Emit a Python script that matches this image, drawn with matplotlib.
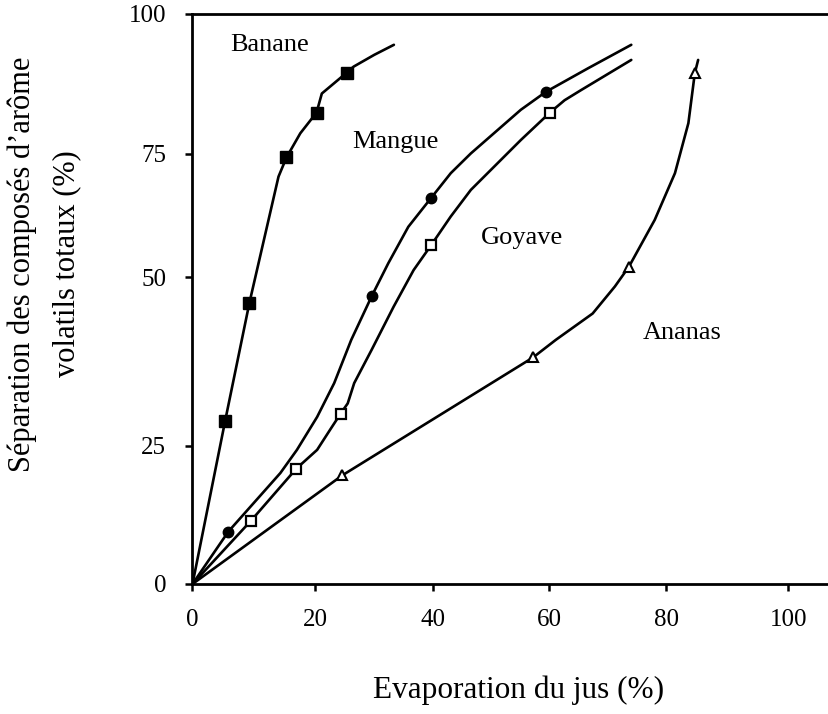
import numpy as np
import matplotlib
matplotlib.use("Agg")
from matplotlib import pyplot as plt

plt.rcParams["font.family"] = ["Liberation Serif", "DejaVu Serif"]

# tick positions of the (hand drawn, uneven) scan axes
x_ticks = [0, 20, 40, 60, 80, 100]
x_tick_pos = [0, 122.5, 239.8, 355.8, 472.5, 594.2]
y_ticks = [0, 25, 50, 75, 100]
y_tick_pos = [0, 138, 307, 430, 570]

# traced curves
banane_cx = [0, 5.31, 9.27, 14.0, 15.3, 17.55, 20.2, 21.1, 25.3, 26.5, 30.0, 33.35]
banane_cy = [0, 28.7, 46.2, 70.4, 74.3, 78.7, 82.4, 85.8, 89.5, 90.6, 92.7, 94.5]
mangue_cx = [0, 5.84, 14.3, 17.0, 20.3, 23.2, 26.1, 29.6, 32.4, 35.8, 39.7, 43.05, 46.5,
             55.1, 59.4, 66.6, 74.0]
mangue_cy = [0, 9.5, 20.1, 24.3, 29.3, 34.3, 40.7, 47.2, 52.8, 60.2, 66.1, 71.1, 75.1,
             82.9, 86.1, 90.3, 94.5]
goyave_cx = [0, 9.55, 16.9, 20.3, 22.5, 24.3, 25.5, 26.6, 29.55, 33.3, 36.7, 39.7, 43.05,
             46.5, 55.1, 60.1, 62.6, 65.4, 74.0]
goyave_cy = [0, 11.5, 20.9, 24.3, 27.4, 29.8, 31.3, 34.3, 39.2, 45.6, 51.4, 56.5, 62.3,
             67.7, 77.5, 82.4, 84.6, 86.4, 91.8]
ananas_cx = [0, 24.6, 57.2, 61.1, 67.4, 71.2, 73.6, 78.0, 81.4, 83.6, 84.65, 85.2]
ananas_cy = [0, 19.7, 38.1, 40.7, 44.6, 48.6, 52.1, 61.6, 71.1, 80.5, 89.4, 91.8]

# measured points
banane_x = [5.31, 9.27, 15.3, 20.2, 25.3]
banane_y = [28.7, 46.2, 74.3, 82.4, 89.5]
mangue_x = [5.84, 29.6, 39.7, 59.4]
mangue_y = [9.5, 47.2, 66.1, 86.1]
goyave_x = [9.55, 16.9, 24.3, 39.7, 60.1]
goyave_y = [11.5, 20.9, 29.8, 56.5, 82.4]
ananas_x = [24.6, 57.2, 73.6, 84.65]
ananas_y = [19.7, 38.1, 52.1, 89.4]

labels = ["Banane", "Mangue", "Goyave", "Ananas"]
label_x = [6.1, 26.3, 48.2, 76.0]
label_y = [94.5, 77.2, 57.9, 41.7]


def piecewise(vals, pos):
    vals = np.asarray(vals, float)
    pos = np.asarray(pos, float)
    lo_s = (pos[1] - pos[0]) / (vals[1] - vals[0])
    hi_s = (pos[-1] - pos[-2]) / (vals[-1] - vals[-2])
    v = np.concatenate([[vals[0] - 1e4], vals, [vals[-1] + 1e4]])
    p = np.concatenate([[pos[0] - 1e4 * lo_s], pos, [pos[-1] + 1e4 * hi_s]])
    return (lambda a: np.interp(a, v, p)), (lambda a: np.interp(a, p, v))


W, H = 829, 714
fig = plt.figure(figsize=(W / 100, H / 100), dpi=100)
ax = fig.add_axes([192.5 / W, 1 - 584 / H, (W - 192.5) / W + 0.01, 570 / H])

ax.set_xscale("function", functions=piecewise(x_ticks, x_tick_pos))
ax.set_yscale("function", functions=piecewise(y_ticks, y_tick_pos))

line_kw = dict(color="black", lw=1.9, solid_joinstyle="round", solid_capstyle="round")
ax.plot(banane_cx, banane_cy, **line_kw)
ax.plot(mangue_cx, mangue_cy, **line_kw)
ax.plot(goyave_cx, goyave_cy, **line_kw)
ax.plot(ananas_cx, ananas_cy, **line_kw)

ax.plot(banane_x, banane_y, ls="none", marker="s", ms=8, color="black")
ax.plot(mangue_x, mangue_y, ls="none", marker="o", ms=7.5, color="black")
ax.plot(goyave_x, goyave_y, ls="none", marker="s", ms=7.5, mfc="white",
        mec="black", mew=1.6)
ax.plot(ananas_x, ananas_y, ls="none", marker="^", ms=6.5, mfc="white",
        mec="black", mew=1.5)

for name, lx, ly in zip(labels, label_x, label_y):
    ax.text(lx, ly, name, fontsize=19, ha="left", va="center")

ax.set_xlim(0, 108)
ax.set_ylim(0, 100)
ax.set_xticks(x_ticks)
ax.set_yticks(y_ticks)
ax.tick_params(direction="out", length=5, width=1.8, labelsize=18)
ax.tick_params(axis="x", pad=13)
ax.tick_params(axis="y", pad=14)
for side in ["left", "bottom", "top"]:
    ax.spines[side].set_linewidth(2)
ax.spines["right"].set_visible(False)

ax.set_xlabel("Evaporation du jus (%)", fontsize=22.5, va="center")
ax.xaxis.set_label_coords((514 - 192.5) / (W - 192.5), (584 - 690) / 570)
ax.set_ylabel("Séparation des composés d\u2019arôme\nvolatils totaux (%)",
              fontsize=22, va="center", ha="center", linespacing=1.7)
ax.yaxis.set_label_coords((46 - 192.5) / (W - 192.5), (584 - 264) / 570)

fig.savefig("out.png", dpi=100)
plt.close(fig)
